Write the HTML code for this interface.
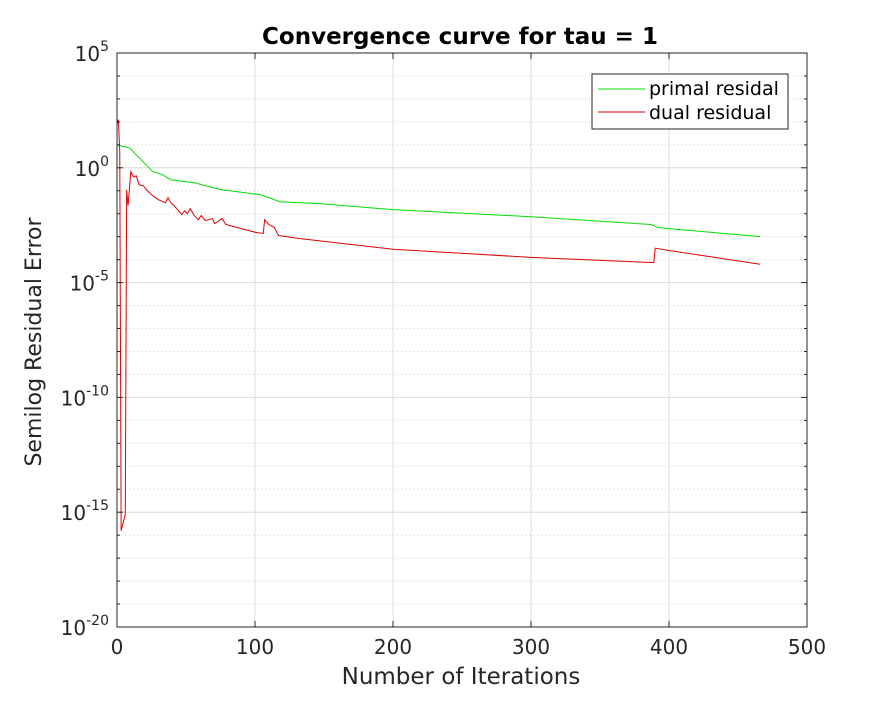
<!DOCTYPE html>
<html><head><meta charset="utf-8"><style>
body{margin:0;background:#fff;font-family:"Liberation Sans","DejaVu Sans",sans-serif}
svg text{font-family:"DejaVu Sans","Liberation Sans",sans-serif}
</style></head><body>
<svg id="chart" width="891" height="703" xmlns="http://www.w3.org/2000/svg">
<rect width="891" height="703" fill="#fff"/>
<g id="grid"></g><g id="series"></g><g id="axes"></g>
</svg>
<script>
const primalIter=[0,9,26,33,39,56,75,104,118,147,200,300,387,392,400,466];
const primalLog=[1.0,0.87,-0.17,-0.3,-0.52,-0.65,-0.95,-1.17,-1.48,-1.56,-1.82,-2.13,-2.47,-2.6,-2.65,-3.0];
const dualIter=[0,1,2,3,6,7,8,10,12,14,16,19,22,26,30,35,37,39,42,47,49,51,53,56,59,61,64,69,71,76,79,87,101,106,107,110,114,117,132,200,300,389,390,400,466];
const dualLog=[1.9,2.1,0.7,-15.8,-15.1,-0.96,-1.65,-0.17,-0.4,-0.35,-0.74,-0.78,-1.0,-1.22,-1.39,-1.52,-1.3,-1.52,-1.69,-2.04,-1.87,-2.0,-1.78,-2.08,-2.26,-2.08,-2.3,-2.21,-2.43,-2.21,-2.47,-2.6,-2.82,-2.86,-2.26,-2.47,-2.6,-2.95,-3.08,-3.55,-3.9,-4.13,-3.5,-3.6,-4.2];
const xTicks=[0,100,200,300,400,500];
const yTickExp=[5,0,-5,-10,-15,-20];
const L=117,R=807,T=53,B=627;
const xs=v=>L+(v/500)*(R-L);
const ys=e=>T+(5-e)/25*(B-T);
const NS="http://www.w3.org/2000/svg";
function mk(tag,attrs,parent){const e=document.createElementNS(NS,tag);for(const k in attrs)e.setAttribute(k,attrs[k]);parent.appendChild(e);return e;}
const grid=document.getElementById('grid'),ser=document.getElementById('series'),ax=document.getElementById('axes');
for(let e=4;e>-20;e--){const l=mk('line',{x1:L,x2:R,y1:ys(e),y2:ys(e),stroke:e%5===0?'#dcdcdc':'#c8c8c8','stroke-dasharray':e%5===0?'':'1,3','stroke-width':1},grid);

}
xTicks.slice(1,-1).forEach(v=>{const l=mk('line',{x1:xs(v),x2:xs(v),y1:T,y2:B,stroke:'#dcdcdc'},grid);

});
function poly(xsA,ysA,color,name){const p=mk('polyline',{points:xsA.map((v,i)=>xs(v)+','+ys(ysA[i])).join(' '),fill:'none',stroke:color,'stroke-width':1},ser);

}
poly(primalIter,primalLog,'#00e000','primal-residual-line');
poly(dualIter,dualLog,'#e00000','dual-residual-line');
const fr=mk('rect',{x:L,y:T,width:R-L,height:B-T,fill:'none',stroke:'#262626','stroke-width':1},ax);


xTicks.forEach(v=>{mk('line',{x1:xs(v),x2:xs(v),y1:B,y2:B-6,stroke:'#262626'},ax);mk('line',{x1:xs(v),x2:xs(v),y1:T,y2:T+6,stroke:'#262626'},ax);
const t=mk('text',{x:xs(v),y:B+27,'text-anchor':'middle','font-size':20,fill:'#262626'},ax);t.textContent=v;

});
for(let e=5;e>=-20;e--){mk('line',{x1:L,x2:L+(e%5===0?6:3),y1:ys(e),y2:ys(e),stroke:'#262626'},ax);mk('line',{x1:R,x2:R-(e%5===0?6:3),y1:ys(e),y2:ys(e),stroke:'#262626'},ax);}
yTickExp.forEach(e=>{const t=mk('text',{x:L-8,y:ys(e)+8,'text-anchor':'end','font-size':20,fill:'#262626'},ax);


t.innerHTML='10<tspan dy="-10" font-size="14">'+e+'</tspan>';});
</script>
<svg style="position:absolute;left:0;top:0" width="891" height="703" xmlns="http://www.w3.org/2000/svg">
<text x="460" y="44" text-anchor="middle" font-size="23" font-weight="bold" fill="#000">Convergence curve for tau = 1</text>
<text x="461" y="684" text-anchor="middle" font-size="23" fill="#262626">Number of Iterations</text>
<text transform="translate(41,342) rotate(-90)" text-anchor="middle" font-size="22" fill="#262626">Semilog Residual Error</text>
<g>
<rect x="592" y="74" width="196" height="55" fill="#fff" stroke="#262626"/>
<line x1="598" x2="645" y1="89" y2="89" stroke="#00e000"/>
<text x="649" y="95" font-size="19" fill="#000">primal residal</text>
<line x1="598" x2="645" y1="112" y2="112" stroke="#e00000"/>
<text x="649" y="119" font-size="19" fill="#000">dual residual</text>
</g>
</svg>
</body></html>
